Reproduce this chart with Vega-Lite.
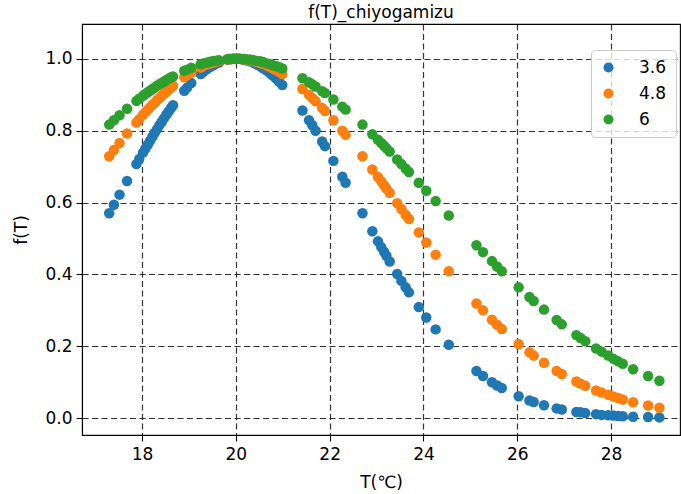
{
  "$schema": "https://vega.github.io/schema/vega-lite/v6.json",
  "autosize": {"type": "none"},
  "width": 598,
  "height": 411,
  "padding": {"left": 82, "top": 24, "right": 1, "bottom": 59},
  "background": "white",
  "title": {"text": "f(T)_chiyogamizu", "fontSize": 17, "fontWeight": "normal", "font": "DejaVu Sans", "color": "black", "offset": 2},
  "config": {
    "font": "DejaVu Sans",
    "view": {"stroke": "black", "strokeWidth": 1.1},
    "axis": {
      "domainColor": "black", "domainWidth": 1.1, "tickColor": "black", "tickSize": 6, "tickWidth": 1.1,
      "labelColor": "black", "labelFontSize": 17, "titleColor": "black", "titleFontSize": 17, "titleFontWeight": "normal",
      "gridColor": "#111111", "gridDash": [6, 3.5], "gridWidth": 1.2, "gridOpacity": 0.85, "labelPadding": 4
    }
  },
  "data": {"values": [
{"T":17.30,"f":0.570,"w":"3.6"},{"T":17.40,"f":0.594,"w":"3.6"},{"T":17.52,"f":0.622,"w":"3.6"},{"T":17.68,"f":0.660,"w":"3.6"},{"T":17.88,"f":0.707,"w":"3.6"},{"T":17.94,"f":0.721,"w":"3.6"},{"T":18.02,"f":0.739,"w":"3.6"},{"T":18.07,"f":0.750,"w":"3.6"},{"T":18.12,"f":0.761,"w":"3.6"},{"T":18.17,"f":0.772,"w":"3.6"},{"T":18.22,"f":0.783,"w":"3.6"},{"T":18.27,"f":0.794,"w":"3.6"},{"T":18.32,"f":0.804,"w":"3.6"},{"T":18.37,"f":0.815,"w":"3.6"},{"T":18.42,"f":0.825,"w":"3.6"},{"T":18.47,"f":0.835,"w":"3.6"},{"T":18.52,"f":0.845,"w":"3.6"},{"T":18.57,"f":0.854,"w":"3.6"},{"T":18.62,"f":0.863,"w":"3.6"},{"T":18.66,"f":0.871,"w":"3.6"},{"T":18.90,"f":0.911,"w":"3.6"},{"T":18.96,"f":0.920,"w":"3.6"},{"T":19.05,"f":0.933,"w":"3.6"},{"T":19.25,"f":0.958,"w":"3.6"},{"T":19.30,"f":0.963,"w":"3.6"},{"T":19.38,"f":0.971,"w":"3.6"},{"T":19.45,"f":0.977,"w":"3.6"},{"T":19.52,"f":0.982,"w":"3.6"},{"T":19.58,"f":0.987,"w":"3.6"},{"T":19.64,"f":0.990,"w":"3.6"},{"T":19.82,"f":0.998,"w":"3.6"},{"T":19.88,"f":0.999,"w":"3.6"},{"T":19.95,"f":1.000,"w":"3.6"},{"T":20.02,"f":1.000,"w":"3.6"},{"T":20.08,"f":1.000,"w":"3.6"},{"T":20.15,"f":0.998,"w":"3.6"},{"T":20.22,"f":0.996,"w":"3.6"},{"T":20.30,"f":0.993,"w":"3.6"},{"T":20.38,"f":0.989,"w":"3.6"},{"T":20.45,"f":0.984,"w":"3.6"},{"T":20.52,"f":0.979,"w":"3.6"},{"T":20.58,"f":0.974,"w":"3.6"},{"T":20.65,"f":0.968,"w":"3.6"},{"T":20.72,"f":0.961,"w":"3.6"},{"T":20.78,"f":0.954,"w":"3.6"},{"T":20.85,"f":0.946,"w":"3.6"},{"T":20.92,"f":0.937,"w":"3.6"},{"T":20.99,"f":0.927,"w":"3.6"},{"T":21.42,"f":0.856,"w":"3.6"},{"T":21.56,"f":0.829,"w":"3.6"},{"T":21.63,"f":0.815,"w":"3.6"},{"T":21.70,"f":0.800,"w":"3.6"},{"T":21.84,"f":0.770,"w":"3.6"},{"T":21.90,"f":0.757,"w":"3.6"},{"T":22.08,"f":0.716,"w":"3.6"},{"T":22.27,"f":0.672,"w":"3.6"},{"T":22.34,"f":0.655,"w":"3.6"},{"T":22.70,"f":0.570,"w":"3.6"},{"T":22.91,"f":0.520,"w":"3.6"},{"T":23.03,"f":0.492,"w":"3.6"},{"T":23.10,"f":0.476,"w":"3.6"},{"T":23.16,"f":0.463,"w":"3.6"},{"T":23.21,"f":0.452,"w":"3.6"},{"T":23.28,"f":0.436,"w":"3.6"},{"T":23.44,"f":0.401,"w":"3.6"},{"T":23.53,"f":0.382,"w":"3.6"},{"T":23.62,"f":0.364,"w":"3.6"},{"T":23.69,"f":0.350,"w":"3.6"},{"T":23.90,"f":0.309,"w":"3.6"},{"T":24.06,"f":0.280,"w":"3.6"},{"T":24.26,"f":0.247,"w":"3.6"},{"T":24.54,"f":0.204,"w":"3.6"},{"T":25.13,"f":0.131,"w":"3.6"},{"T":25.27,"f":0.117,"w":"3.6"},{"T":25.46,"f":0.100,"w":"3.6"},{"T":25.57,"f":0.091,"w":"3.6"},{"T":25.67,"f":0.084,"w":"3.6"},{"T":26.03,"f":0.061,"w":"3.6"},{"T":26.26,"f":0.049,"w":"3.6"},{"T":26.35,"f":0.045,"w":"3.6"},{"T":26.57,"f":0.036,"w":"3.6"},{"T":26.84,"f":0.027,"w":"3.6"},{"T":26.95,"f":0.024,"w":"3.6"},{"T":27.26,"f":0.017,"w":"3.6"},{"T":27.35,"f":0.016,"w":"3.6"},{"T":27.45,"f":0.014,"w":"3.6"},{"T":27.68,"f":0.011,"w":"3.6"},{"T":27.80,"f":0.009,"w":"3.6"},{"T":27.94,"f":0.008,"w":"3.6"},{"T":28.05,"f":0.007,"w":"3.6"},{"T":28.15,"f":0.006,"w":"3.6"},{"T":28.25,"f":0.005,"w":"3.6"},{"T":28.47,"f":0.004,"w":"3.6"},{"T":28.79,"f":0.003,"w":"3.6"},{"T":29.03,"f":0.002,"w":"3.6"},
{"T":17.30,"f":0.729,"w":"4.8"},{"T":17.40,"f":0.746,"w":"4.8"},{"T":17.52,"f":0.766,"w":"4.8"},{"T":17.68,"f":0.792,"w":"4.8"},{"T":17.88,"f":0.823,"w":"4.8"},{"T":17.94,"f":0.832,"w":"4.8"},{"T":18.02,"f":0.844,"w":"4.8"},{"T":18.07,"f":0.851,"w":"4.8"},{"T":18.12,"f":0.858,"w":"4.8"},{"T":18.17,"f":0.865,"w":"4.8"},{"T":18.22,"f":0.872,"w":"4.8"},{"T":18.27,"f":0.878,"w":"4.8"},{"T":18.32,"f":0.885,"w":"4.8"},{"T":18.37,"f":0.891,"w":"4.8"},{"T":18.42,"f":0.897,"w":"4.8"},{"T":18.47,"f":0.903,"w":"4.8"},{"T":18.52,"f":0.909,"w":"4.8"},{"T":18.57,"f":0.915,"w":"4.8"},{"T":18.62,"f":0.921,"w":"4.8"},{"T":18.66,"f":0.925,"w":"4.8"},{"T":18.90,"f":0.949,"w":"4.8"},{"T":18.96,"f":0.954,"w":"4.8"},{"T":19.05,"f":0.962,"w":"4.8"},{"T":19.25,"f":0.976,"w":"4.8"},{"T":19.30,"f":0.979,"w":"4.8"},{"T":19.38,"f":0.984,"w":"4.8"},{"T":19.45,"f":0.987,"w":"4.8"},{"T":19.52,"f":0.990,"w":"4.8"},{"T":19.58,"f":0.992,"w":"4.8"},{"T":19.64,"f":0.994,"w":"4.8"},{"T":19.82,"f":0.999,"w":"4.8"},{"T":19.88,"f":0.999,"w":"4.8"},{"T":19.95,"f":1.000,"w":"4.8"},{"T":20.02,"f":1.000,"w":"4.8"},{"T":20.08,"f":1.000,"w":"4.8"},{"T":20.15,"f":0.999,"w":"4.8"},{"T":20.22,"f":0.998,"w":"4.8"},{"T":20.30,"f":0.996,"w":"4.8"},{"T":20.38,"f":0.994,"w":"4.8"},{"T":20.45,"f":0.991,"w":"4.8"},{"T":20.52,"f":0.988,"w":"4.8"},{"T":20.58,"f":0.986,"w":"4.8"},{"T":20.65,"f":0.982,"w":"4.8"},{"T":20.72,"f":0.978,"w":"4.8"},{"T":20.78,"f":0.974,"w":"4.8"},{"T":20.85,"f":0.969,"w":"4.8"},{"T":20.92,"f":0.964,"w":"4.8"},{"T":20.99,"f":0.958,"w":"4.8"},{"T":21.42,"f":0.916,"w":"4.8"},{"T":21.56,"f":0.900,"w":"4.8"},{"T":21.63,"f":0.891,"w":"4.8"},{"T":21.70,"f":0.882,"w":"4.8"},{"T":21.84,"f":0.863,"w":"4.8"},{"T":21.90,"f":0.855,"w":"4.8"},{"T":22.08,"f":0.829,"w":"4.8"},{"T":22.27,"f":0.800,"w":"4.8"},{"T":22.34,"f":0.789,"w":"4.8"},{"T":22.70,"f":0.729,"w":"4.8"},{"T":22.91,"f":0.692,"w":"4.8"},{"T":23.03,"f":0.671,"w":"4.8"},{"T":23.10,"f":0.659,"w":"4.8"},{"T":23.16,"f":0.648,"w":"4.8"},{"T":23.21,"f":0.639,"w":"4.8"},{"T":23.28,"f":0.627,"w":"4.8"},{"T":23.44,"f":0.598,"w":"4.8"},{"T":23.53,"f":0.582,"w":"4.8"},{"T":23.62,"f":0.566,"w":"4.8"},{"T":23.69,"f":0.554,"w":"4.8"},{"T":23.90,"f":0.517,"w":"4.8"},{"T":24.06,"f":0.489,"w":"4.8"},{"T":24.26,"f":0.455,"w":"4.8"},{"T":24.54,"f":0.409,"w":"4.8"},{"T":25.13,"f":0.319,"w":"4.8"},{"T":25.27,"f":0.300,"w":"4.8"},{"T":25.46,"f":0.274,"w":"4.8"},{"T":25.57,"f":0.260,"w":"4.8"},{"T":25.67,"f":0.248,"w":"4.8"},{"T":26.03,"f":0.206,"w":"4.8"},{"T":26.26,"f":0.183,"w":"4.8"},{"T":26.35,"f":0.174,"w":"4.8"},{"T":26.57,"f":0.154,"w":"4.8"},{"T":26.84,"f":0.131,"w":"4.8"},{"T":26.95,"f":0.123,"w":"4.8"},{"T":27.26,"f":0.102,"w":"4.8"},{"T":27.35,"f":0.096,"w":"4.8"},{"T":27.45,"f":0.090,"w":"4.8"},{"T":27.68,"f":0.077,"w":"4.8"},{"T":27.80,"f":0.071,"w":"4.8"},{"T":27.94,"f":0.065,"w":"4.8"},{"T":28.05,"f":0.060,"w":"4.8"},{"T":28.15,"f":0.056,"w":"4.8"},{"T":28.25,"f":0.052,"w":"4.8"},{"T":28.47,"f":0.044,"w":"4.8"},{"T":28.79,"f":0.035,"w":"4.8"},{"T":29.03,"f":0.029,"w":"4.8"},
{"T":17.30,"f":0.817,"w":"6"},{"T":17.40,"f":0.829,"w":"6"},{"T":17.52,"f":0.843,"w":"6"},{"T":17.68,"f":0.861,"w":"6"},{"T":17.88,"f":0.883,"w":"6"},{"T":17.94,"f":0.889,"w":"6"},{"T":18.02,"f":0.897,"w":"6"},{"T":18.07,"f":0.902,"w":"6"},{"T":18.12,"f":0.907,"w":"6"},{"T":18.17,"f":0.911,"w":"6"},{"T":18.22,"f":0.916,"w":"6"},{"T":18.27,"f":0.920,"w":"6"},{"T":18.32,"f":0.925,"w":"6"},{"T":18.37,"f":0.929,"w":"6"},{"T":18.42,"f":0.933,"w":"6"},{"T":18.47,"f":0.937,"w":"6"},{"T":18.52,"f":0.941,"w":"6"},{"T":18.57,"f":0.945,"w":"6"},{"T":18.62,"f":0.949,"w":"6"},{"T":18.66,"f":0.951,"w":"6"},{"T":18.90,"f":0.967,"w":"6"},{"T":18.96,"f":0.970,"w":"6"},{"T":19.05,"f":0.975,"w":"6"},{"T":19.25,"f":0.985,"w":"6"},{"T":19.30,"f":0.987,"w":"6"},{"T":19.38,"f":0.989,"w":"6"},{"T":19.45,"f":0.992,"w":"6"},{"T":19.52,"f":0.994,"w":"6"},{"T":19.58,"f":0.995,"w":"6"},{"T":19.64,"f":0.996,"w":"6"},{"T":19.82,"f":0.999,"w":"6"},{"T":19.88,"f":1.000,"w":"6"},{"T":19.95,"f":1.000,"w":"6"},{"T":20.02,"f":1.000,"w":"6"},{"T":20.08,"f":1.000,"w":"6"},{"T":20.15,"f":0.999,"w":"6"},{"T":20.22,"f":0.999,"w":"6"},{"T":20.30,"f":0.998,"w":"6"},{"T":20.38,"f":0.996,"w":"6"},{"T":20.45,"f":0.994,"w":"6"},{"T":20.52,"f":0.993,"w":"6"},{"T":20.58,"f":0.991,"w":"6"},{"T":20.65,"f":0.988,"w":"6"},{"T":20.72,"f":0.986,"w":"6"},{"T":20.78,"f":0.983,"w":"6"},{"T":20.85,"f":0.980,"w":"6"},{"T":20.92,"f":0.977,"w":"6"},{"T":20.99,"f":0.973,"w":"6"},{"T":21.42,"f":0.946,"w":"6"},{"T":21.56,"f":0.935,"w":"6"},{"T":21.63,"f":0.929,"w":"6"},{"T":21.70,"f":0.923,"w":"6"},{"T":21.84,"f":0.910,"w":"6"},{"T":21.90,"f":0.905,"w":"6"},{"T":22.08,"f":0.887,"w":"6"},{"T":22.27,"f":0.867,"w":"6"},{"T":22.34,"f":0.859,"w":"6"},{"T":22.70,"f":0.817,"w":"6"},{"T":22.91,"f":0.790,"w":"6"},{"T":23.03,"f":0.775,"w":"6"},{"T":23.10,"f":0.766,"w":"6"},{"T":23.16,"f":0.758,"w":"6"},{"T":23.21,"f":0.751,"w":"6"},{"T":23.28,"f":0.742,"w":"6"},{"T":23.44,"f":0.720,"w":"6"},{"T":23.53,"f":0.707,"w":"6"},{"T":23.62,"f":0.695,"w":"6"},{"T":23.69,"f":0.685,"w":"6"},{"T":23.90,"f":0.655,"w":"6"},{"T":24.06,"f":0.633,"w":"6"},{"T":24.26,"f":0.604,"w":"6"},{"T":24.54,"f":0.564,"w":"6"},{"T":25.13,"f":0.481,"w":"6"},{"T":25.27,"f":0.462,"w":"6"},{"T":25.46,"f":0.437,"w":"6"},{"T":25.57,"f":0.422,"w":"6"},{"T":25.67,"f":0.409,"w":"6"},{"T":26.03,"f":0.364,"w":"6"},{"T":26.26,"f":0.337,"w":"6"},{"T":26.35,"f":0.326,"w":"6"},{"T":26.57,"f":0.302,"w":"6"},{"T":26.84,"f":0.273,"w":"6"},{"T":26.95,"f":0.261,"w":"6"},{"T":27.26,"f":0.231,"w":"6"},{"T":27.35,"f":0.223,"w":"6"},{"T":27.45,"f":0.214,"w":"6"},{"T":27.68,"f":0.194,"w":"6"},{"T":27.80,"f":0.185,"w":"6"},{"T":27.94,"f":0.174,"w":"6"},{"T":28.05,"f":0.165,"w":"6"},{"T":28.15,"f":0.158,"w":"6"},{"T":28.25,"f":0.151,"w":"6"},{"T":28.47,"f":0.136,"w":"6"},{"T":28.79,"f":0.117,"w":"6"},{"T":29.03,"f":0.104,"w":"6"}
  ]},
  "mark": {"type": "circle", "size": 110, "opacity": 1, "strokeWidth": 0},
  "encoding": {
    "x": {"field": "T", "type": "quantitative", "scale": {"domain": [16.72, 29.47], "nice": false, "zero": false},
      "axis": {"values": [18, 20, 22, 24, 26, 28], "title": "T(℃)", "titlePadding": 12, "format": "d", "labelPadding": 5}},
    "y": {"field": "f", "type": "quantitative", "scale": {"domain": [-0.047, 1.097], "nice": false, "zero": false},
      "axis": {"values": [0, 0.2, 0.4, 0.6, 0.8, 1.0], "format": ".1f", "title": "f(T)", "titlePadding": 14}},
    "color": {"field": "w", "type": "nominal",
      "scale": {"domain": ["3.6", "4.8", "6"], "range": ["#1f77b4", "#ff7f0e", "#2ca02c"]},
      "legend": {"title": null, "orient": "none", "legendX": 509, "legendY": 26, "padding": 9, "rowPadding": 8,
        "labelFontSize": 17, "labelColor": "black", "labelOffset": 22, "symbolSize": 100, "symbolType": "circle", "symbolStrokeWidth": 0,
        "fillColor": "rgba(255,255,255,0.8)", "strokeColor": "#cccccc", "cornerRadius": 4}}
  }
}
